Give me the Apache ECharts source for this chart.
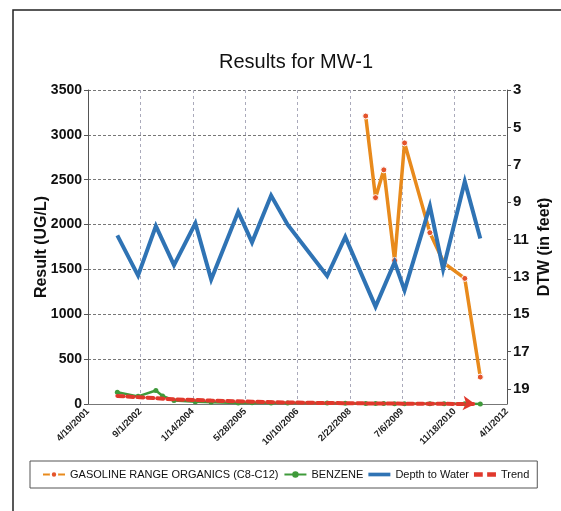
<!DOCTYPE html>
<html>
<head>
<meta charset="utf-8">
<script src="https://cdn.jsdelivr.net/npm/echarts@6/dist/echarts.min.js"></script>
<style>
html,body{margin:0;padding:0;background:#fff;}
#c{width:561px;height:511px;}
</style>
</head>
<body>
<div id="c"></div>
<script>
// ---- data ----
const xTickSerials = [37000, 37500, 38000, 38500, 39000, 39500, 40000, 40500, 41000];

const groDates = ['2008-07-22','2008-10-24','2009-01-11','2009-04-24','2009-07-28','2010-03-27','2010-08-10','2011-02-23','2011-07-21'];
const groValues = [3210, 2300, 2610, 1600, 2910, 1910, 1570, 1400, 300];

const benzDates = ['2002-01-24','2002-08-10','2003-01-27','2003-04-01','2003-07-19','2004-02-08','2004-07-08','2005-03-23','2005-08-02','2006-01-31','2006-07-08','2007-07-20','2008-01-09','2008-07-22','2008-10-24','2009-01-11','2009-04-24','2009-07-28','2010-03-27','2010-08-10','2011-02-23','2011-07-21'];
const benzValues = [130, 85, 150, 90, 40, 25, 20, 10, 15, 12, 10, 10, 8, 6, 5, 5, 4, 4, 3, 2, 2, 1];

const dtwDates = ['2002-01-24','2002-08-10','2003-01-27','2003-07-19','2004-02-08','2004-07-08','2005-03-23','2005-08-02','2006-01-31','2006-07-08','2007-07-20','2008-01-09','2008-10-24','2009-04-24','2009-07-28','2010-03-27','2010-07-31','2011-02-23','2011-07-21'];
const dtwValues = [10.78, 12.93, 10.28, 12.37, 10.13, 13.14, 9.52, 11.15, 8.65, 10.21, 12.95, 10.86, 14.59, 12.21, 13.72, 9.21, 12.59, 7.89, 10.95];

const trendDates = ['2002-01-24','2003-07-19','2004-07-08','2005-08-02','2006-07-08','2007-07-20','2008-10-24','2009-07-28','2010-07-31','2011-06-01'];
const trendValues = [90, 52, 38, 25, 17, 11, 6, 4, 2, 0];

const seriesNames = ['GASOLINE RANGE ORGANICS (C8-C12)', 'BENZENE', 'Depth to Water', 'Trend'];

// ---- helpers ----
function toSerial(s){
  const p = s.split('-').map(Number);
  return Math.round((Date.UTC(p[0], p[1]-1, p[2]) - Date.UTC(1899, 11, 30)) / 86400000);
}
function serialLabel(v){
  const d = new Date(Date.UTC(1899, 11, 30) + v * 86400000);
  return (d.getUTCMonth()+1) + '/' + d.getUTCDate() + '/' + d.getUTCFullYear();
}
function pairs(dates, vals){ return dates.map((d,i)=>[toSerial(d), vals[i]]); }

const trendData = pairs(trendDates, trendValues);
trendData[trendData.length-1] = {
  value: trendData[trendData.length-1],
  symbol: 'arrow', symbolSize: [11, 12], symbolRotate: -95,
  itemStyle: {color: '#e0382c'}
};

const FONT = 'Liberation Sans, Arial, sans-serif';
const chart = echarts.init(document.getElementById('c'), null, {renderer: 'canvas'});
chart.setOption({
  backgroundColor: '#fff',
  animation: false,
  title: {
    text: 'Results for MW-1',
    left: 291, top: 47, textAlign: 'center',
    textStyle: {fontFamily: FONT, fontSize: 20, fontWeight: 'normal', color: '#111'}
  },
  graphic: [{
    type: 'rect', silent: true,
    shape: {x: 13, y: 10, width: 600, height: 560},
    style: {fill: 'none', stroke: '#222', lineWidth: 1.5}
  }],
  legend: {
    left: 30, top: 461,
    padding: [8, 8, 8, 12],
    borderColor: '#555', borderWidth: 1,
    itemGap: 5, itemWidth: 22, itemHeight: 8,
    data: [
      {name: seriesNames[0]},
      {name: seriesNames[1]},
      {name: seriesNames[2], icon: 'path://M0,0H24V4H0Z'},
      {name: seriesNames[3], icon: 'path://M0,0H8V4H0ZM12,0H20V4H12Z'}
    ],
    textStyle: {fontFamily: FONT, fontSize: 11, color: '#111'}
  },
  grid: {left: 88, right: 49, top: 90, bottom: 107},
  xAxis: {
    type: 'value', min: 37000, max: 41000, interval: 500,
    axisLine: {show: true, lineStyle: {color: '#777'}},
    axisTick: {show: false},
    splitLine: {show: true, lineStyle: {color: '#aab', type: [3, 3], width: 1}},
    axisLabel: {
      rotate: 45, margin: 6, fontSize: 9.5, fontWeight: 'bold', color: '#222', fontFamily: FONT,
      showMinLabel: true, showMaxLabel: true,
      formatter: v => serialLabel(v)
    }
  },
  yAxis: [{
    type: 'value', min: 0, max: 3500, interval: 500,
    name: 'Result (UG/L)', nameLocation: 'middle', nameGap: 38, nameRotate: 90, nameMoveOverlap: false,
    nameTextStyle: {fontFamily: FONT, fontSize: 16, fontWeight: 'bold', color: '#111'},
    axisLine: {show: true, lineStyle: {color: '#555'}},
    axisTick: {show: true, length: 4, lineStyle: {color: '#555'}},
    splitLine: {show: true, lineStyle: {color: '#777', type: [3, 2], width: 1}},
    axisLabel: {fontFamily: FONT, fontSize: 14, fontWeight: 'bold', color: '#111', margin: 6, formatter: v => String(v)}
  }, {
    type: 'value', min: 3, max: 19.8, interval: 2, inverse: true,
    name: 'DTW (in feet)', nameLocation: 'middle', nameGap: 30, nameRotate: 90, nameMoveOverlap: false,
    nameTextStyle: {fontFamily: FONT, fontSize: 16, fontWeight: 'bold', color: '#111'},
    axisLine: {show: true, lineStyle: {color: '#555'}},
    axisTick: {show: true, length: 4, lineStyle: {color: '#555'}},
    splitLine: {show: false},
    axisLabel: {fontFamily: FONT, fontSize: 15, fontWeight: 'bold', color: '#111', margin: 6, showMaxLabel: false,
      formatter: v => (Math.abs(v - Math.round(v)) < 1e-6 ? String(v) : '')}
  }],
  series: [{
    name: seriesNames[0], type: 'line', yAxisIndex: 0, z: 3,
    data: pairs(groDates, groValues),
    symbol: 'circle', symbolSize: 6, showSymbol: true,
    lineStyle: {color: '#e88a1c', width: 3.5},
    itemStyle: {color: '#e4542c', borderColor: '#fff', borderWidth: 1}
  }, {
    name: seriesNames[1], type: 'line', yAxisIndex: 0, z: 4,
    data: pairs(benzDates, benzValues),
    symbol: 'circle', symbolSize: 5,
    lineStyle: {color: '#3f9a3a', width: 2.5},
    itemStyle: {color: '#3f9a3a'}
  }, {
    name: seriesNames[2], type: 'line', yAxisIndex: 1, z: 5,
    data: pairs(dtwDates, dtwValues),
    symbol: 'none',
    lineStyle: {color: '#2f73b4', width: 4, join: 'miter'},
    itemStyle: {color: '#2f73b4'}
  }, {
    name: seriesNames[3], type: 'line', yAxisIndex: 0, z: 6,
    data: trendData,
    symbol: 'none', showSymbol: true,
    lineStyle: {color: '#e0382c', width: 4, type: [6, 4], cap: 'round'},
    itemStyle: {color: '#e0382c'}
  }]
});
</script>
</body>
</html>
